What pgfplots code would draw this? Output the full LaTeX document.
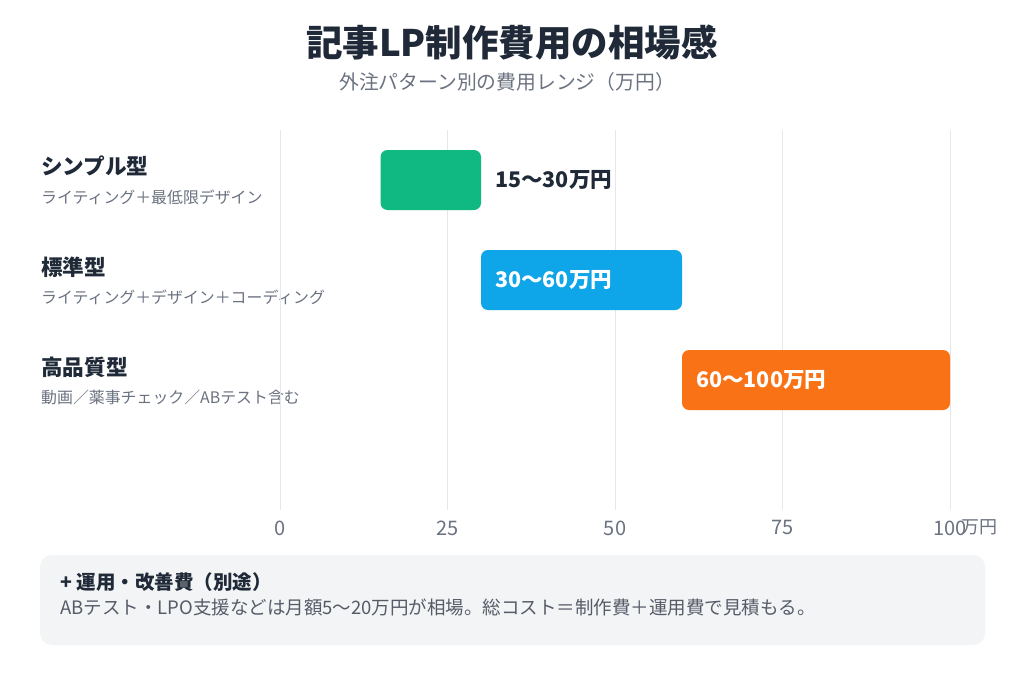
\documentclass[border=0pt]{standalone}
\usepackage{pgfplots}
\pgfplotsset{compat=1.18}
\usepackage{fontspec}
\setmainfont{Noto Sans CJK JP}
\newfontfamily\blackfont{Noto Sans CJK JP Black}
\definecolor{cdark}{HTML}{1F2937}
\definecolor{cgray}{HTML}{6B7280}
\definecolor{cgrid}{HTML}{E5E7EB}
\definecolor{cgreen}{HTML}{10B981}
\definecolor{cblue}{HTML}{0EA5E9}
\definecolor{corange}{HTML}{F97316}
\definecolor{cbox}{HTML}{F3F4F6}
\newcommand{\fs}[1]{\fontsize{#1}{#1}\selectfont}
\begin{document}
\begin{tikzpicture}[x=1pt,y=1pt]
\fill[white] (0,0) rectangle (1024,683);
\path[use as bounding box] (0,0) rectangle (1024,683);
% title
\node[text=cdark,font=\fs{36.5}\blackfont] at (512,640) {記事LP制作費用の相場感};
\node[text=cgray,font=\fs{19.8}] at (507,601) {外注パターン別の費用レンジ（万円）};
% category labels
\node[anchor=west,text=cdark,font=\fs{21.6}\blackfont,inner sep=0] at (41,517) {シンプル型};
\node[anchor=west,text=cgray,font=\fs{15.9},inner sep=0] at (41,486) {ライティング＋最低限デザイン};
\node[anchor=west,text=cdark,font=\fs{21.6}\blackfont,inner sep=0] at (41,416) {標準型};
\node[anchor=west,text=cgray,font=\fs{15.9},inner sep=0] at (41,386) {ライティング＋デザイン＋コーディング};
\node[anchor=west,text=cdark,font=\fs{21.6}\blackfont,inner sep=0] at (41,316) {高品質型};
\node[anchor=west,text=cgray,font=\fs{15.9},inner sep=0] at (41,286) {動画／薬事チェック／ABテスト含む};
\begin{axis}[
  at={(280pt,173pt)}, anchor=south west,
  scale only axis, width=670pt, height=380pt,
  xmin=0, xmax=100, ymin=-0.5, ymax=3.3, y dir=reverse,
  axis line style={draw=none},
  xtick={0,25,50,75,100}, ytick=\empty,
  tick style={draw=none},
  xmajorgrids, grid style={cgrid, line width=0.8pt},
  xticklabel style={text=cgray, font=\fs{20}, yshift=-7pt},
  /pgf/number format/assume math mode=true,
  clip=false,
]
\addplot[fill=cgreen, draw=none, rounded corners=7pt, mark=none] coordinates {(15,-0.3) (30,-0.3) (30,0.3) (15,0.3)} -- cycle;
\addplot[fill=cblue, draw=none, rounded corners=7pt, mark=none] coordinates {(30,0.7) (60,0.7) (60,1.3) (30,1.3)} -- cycle;
\addplot[fill=corange, draw=none, rounded corners=7pt, mark=none] coordinates {(60,1.7) (100,1.7) (100,2.3) (60,2.3)} -- cycle;
\node[anchor=west, text=cdark, font=\fs{21.5}\blackfont, inner sep=0] at (axis cs:30,0) [xshift=14pt] {15〜30万円};
\node[anchor=west, text=white, font=\fs{21.5}\blackfont, inner sep=0] at (axis cs:30,1) [xshift=14pt] {30〜60万円};
\node[anchor=west, text=white, font=\fs{21.5}\blackfont, inner sep=0] at (axis cs:60,2) [xshift=14pt] {60〜100万円};
\node[anchor=center, text=cgray, font=\fs{18}, inner sep=0] at (rel axis cs:1,0) [xshift=29pt, yshift=-17pt] {万円};
\end{axis}
% note box
\fill[cbox, rounded corners=12pt] (40,38) rectangle (985,128);
\node[anchor=west,text=cdark,font=\fs{19.5}\blackfont,inner sep=0] at (60,101) {+ 運用・改善費（別途）};
\node[anchor=west,text=cgray!80!black,font=\fs{18.5},inner sep=0] at (60,76) {ABテスト・LPO支援などは月額5〜20万円が相場。総コスト＝制作費＋運用費で見積もる。};
\end{tikzpicture}
\end{document}
